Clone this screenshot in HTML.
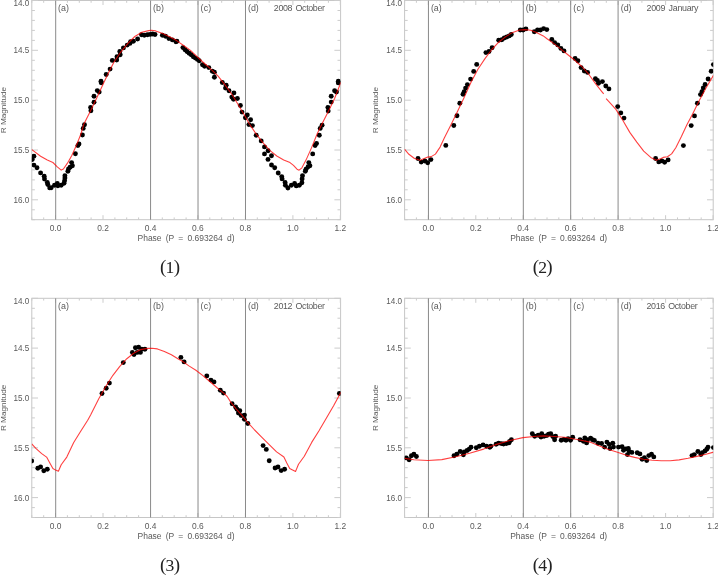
<!DOCTYPE html>
<html><head><meta charset="utf-8"><title>Light curves</title>
<style>
html,body{margin:0;padding:0;background:#fff;}
svg{display:block}
.t{font-family:"Liberation Sans",sans-serif;font-size:8.9px;fill:#5a5a5a}
.c{font-family:"Liberation Serif",serif;font-size:17.6px;fill:#222}
</style></head><body>
<svg width="718" height="575" viewBox="0 0 718 575">
<rect width="718" height="575" fill="#fff"/>

<g>
<rect x="31.8" y="0.5" width="308.8" height="219.2" fill="none" stroke="#c6c6c6" stroke-width="1"/>
<path d="M31.8 219.7v-2.3M31.8 0.5v2.3M43.7 219.7v-2.3M43.7 0.5v2.3M55.5 219.7v-4.5M55.5 0.5v4.5M67.4 219.7v-2.3M67.4 0.5v2.3M79.3 219.7v-2.3M79.3 0.5v2.3M91.1 219.7v-2.3M91.1 0.5v2.3M103.0 219.7v-4.5M103.0 0.5v4.5M114.9 219.7v-2.3M114.9 0.5v2.3M126.7 219.7v-2.3M126.7 0.5v2.3M138.6 219.7v-2.3M138.6 0.5v2.3M150.5 219.7v-4.5M150.5 0.5v4.5M162.3 219.7v-2.3M162.3 0.5v2.3M174.2 219.7v-2.3M174.2 0.5v2.3M186.1 219.7v-2.3M186.1 0.5v2.3M197.9 219.7v-4.5M197.9 0.5v4.5M209.8 219.7v-2.3M209.8 0.5v2.3M221.7 219.7v-2.3M221.7 0.5v2.3M233.5 219.7v-2.3M233.5 0.5v2.3M245.4 219.7v-4.5M245.4 0.5v4.5M257.3 219.7v-2.3M257.3 0.5v2.3M269.1 219.7v-2.3M269.1 0.5v2.3M281.0 219.7v-2.3M281.0 0.5v2.3M292.9 219.7v-4.5M292.9 0.5v4.5M304.7 219.7v-2.3M304.7 0.5v2.3M316.6 219.7v-2.3M316.6 0.5v2.3M328.4 219.7v-2.3M328.4 0.5v2.3M340.3 219.7v-4.5M340.3 0.5v4.5M31.8 0.5h6.2M340.6 0.5h-6.2M31.8 10.5h3.1M340.6 10.5h-3.1M31.8 20.4h3.1M340.6 20.4h-3.1M31.8 30.4h3.1M340.6 30.4h-3.1M31.8 40.4h3.1M340.6 40.4h-3.1M31.8 50.3h6.2M340.6 50.3h-6.2M31.8 60.3h3.1M340.6 60.3h-3.1M31.8 70.3h3.1M340.6 70.3h-3.1M31.8 80.2h3.1M340.6 80.2h-3.1M31.8 90.2h3.1M340.6 90.2h-3.1M31.8 100.2h6.2M340.6 100.2h-6.2M31.8 110.1h3.1M340.6 110.1h-3.1M31.8 120.1h3.1M340.6 120.1h-3.1M31.8 130.0h3.1M340.6 130.0h-3.1M31.8 140.0h3.1M340.6 140.0h-3.1M31.8 150.0h6.2M340.6 150.0h-6.2M31.8 159.9h3.1M340.6 159.9h-3.1M31.8 169.9h3.1M340.6 169.9h-3.1M31.8 179.9h3.1M340.6 179.9h-3.1M31.8 189.8h3.1M340.6 189.8h-3.1M31.8 199.8h6.2M340.6 199.8h-6.2M31.8 209.8h3.1M340.6 209.8h-3.1M31.8 219.7h3.1M340.6 219.7h-3.1" stroke="#cccccc" stroke-width="1" fill="none"/>
<line x1="55.70" y1="0.5" x2="55.70" y2="219.7" stroke="#8a8a8a" stroke-width="1"/>
<line x1="150.57" y1="0.5" x2="150.57" y2="219.7" stroke="#8a8a8a" stroke-width="1"/>
<line x1="198.03" y1="0.5" x2="198.03" y2="219.7" stroke="#8a8a8a" stroke-width="1"/>
<line x1="245.49" y1="0.5" x2="245.49" y2="219.7" stroke="#8a8a8a" stroke-width="1"/>
<clipPath id="cp0"><rect x="31.8" y="0.5" width="308.8" height="219.2"/></clipPath>
<g clip-path="url(#cp0)">
<circle cx="33.9" cy="156.2" r="2.45"/>
<circle cx="32.2" cy="159.5" r="2.45"/>
<circle cx="33.9" cy="165.1" r="2.45"/>
<circle cx="37.0" cy="167.7" r="2.45"/>
<circle cx="40.6" cy="172.9" r="2.45"/>
<circle cx="44.2" cy="176.2" r="2.45"/>
<circle cx="44.5" cy="179.0" r="2.45"/>
<circle cx="47.3" cy="182.4" r="2.45"/>
<circle cx="47.8" cy="184.6" r="2.45"/>
<circle cx="49.7" cy="187.9" r="2.45"/>
<circle cx="51.2" cy="187.7" r="2.45"/>
<circle cx="54.5" cy="185.2" r="2.45"/>
<circle cx="57.3" cy="183.5" r="2.45"/>
<circle cx="57.9" cy="185.7" r="2.45"/>
<circle cx="61.2" cy="185.2" r="2.45"/>
<circle cx="64.0" cy="183.3" r="2.45"/>
<circle cx="64.6" cy="180.7" r="2.45"/>
<circle cx="64.9" cy="177.9" r="2.45"/>
<circle cx="64.9" cy="175.7" r="2.45"/>
<circle cx="67.9" cy="171.2" r="2.45"/>
<circle cx="68.5" cy="169.0" r="2.45"/>
<circle cx="70.1" cy="167.3" r="2.45"/>
<circle cx="72.4" cy="165.7" r="2.45"/>
<circle cx="71.6" cy="162.6" r="2.45"/>
<circle cx="75.4" cy="153.7" r="2.45"/>
<circle cx="77.9" cy="145.6" r="2.45"/>
<circle cx="79.0" cy="143.9" r="2.45"/>
<circle cx="82.4" cy="135.0" r="2.45"/>
<circle cx="83.2" cy="128.4" r="2.45"/>
<circle cx="84.5" cy="124.8" r="2.45"/>
<circle cx="90.9" cy="110.7" r="2.45"/>
<circle cx="90.6" cy="107.4" r="2.45"/>
<circle cx="94.0" cy="102.3" r="2.45"/>
<circle cx="94.0" cy="96.2" r="2.45"/>
<circle cx="97.3" cy="90.6" r="2.45"/>
<circle cx="99.2" cy="92.1" r="2.45"/>
<circle cx="101.0" cy="81.2" r="2.45"/>
<circle cx="101.2" cy="82.8" r="2.45"/>
<circle cx="106.2" cy="74.5" r="2.45"/>
<circle cx="110.1" cy="69.1" r="2.45"/>
<circle cx="112.3" cy="60.4" r="2.45"/>
<circle cx="116.7" cy="60.1" r="2.45"/>
<circle cx="117.0" cy="56.7" r="2.45"/>
<circle cx="120.2" cy="54.8" r="2.45"/>
<circle cx="119.8" cy="51.5" r="2.45"/>
<circle cx="123.4" cy="47.9" r="2.45"/>
<circle cx="127.2" cy="45.1" r="2.45"/>
<circle cx="129.9" cy="43.4" r="2.45"/>
<circle cx="130.6" cy="41.8" r="2.45"/>
<circle cx="133.4" cy="41.3" r="2.45"/>
<circle cx="137.6" cy="39.0" r="2.45"/>
<circle cx="141.5" cy="34.8" r="2.45"/>
<circle cx="144.3" cy="35.3" r="2.45"/>
<circle cx="147.4" cy="34.8" r="2.45"/>
<circle cx="150.1" cy="34.4" r="2.45"/>
<circle cx="152.6" cy="34.0" r="2.45"/>
<circle cx="155.0" cy="34.5" r="2.45"/>
<circle cx="162.4" cy="35.3" r="2.45"/>
<circle cx="165.5" cy="36.2" r="2.45"/>
<circle cx="168.9" cy="38.6" r="2.45"/>
<circle cx="172.4" cy="39.9" r="2.45"/>
<circle cx="175.9" cy="41.8" r="2.45"/>
<circle cx="176.9" cy="41.3" r="2.45"/>
<circle cx="182.9" cy="47.6" r="2.45"/>
<circle cx="185.0" cy="49.7" r="2.45"/>
<circle cx="187.0" cy="51.5" r="2.45"/>
<circle cx="189.1" cy="53.2" r="2.45"/>
<circle cx="191.2" cy="54.8" r="2.45"/>
<circle cx="193.3" cy="56.7" r="2.45"/>
<circle cx="195.4" cy="58.1" r="2.45"/>
<circle cx="197.5" cy="59.4" r="2.45"/>
<circle cx="199.2" cy="60.8" r="2.45"/>
<circle cx="202.5" cy="64.8" r="2.45"/>
<circle cx="204.6" cy="66.2" r="2.45"/>
<circle cx="208.8" cy="67.6" r="2.45"/>
<circle cx="212.3" cy="71.3" r="2.45"/>
<circle cx="214.4" cy="72.3" r="2.45"/>
<circle cx="214.4" cy="77.3" r="2.45"/>
<circle cx="222.3" cy="82.5" r="2.45"/>
<circle cx="226.2" cy="85.3" r="2.45"/>
<circle cx="225.5" cy="88.1" r="2.45"/>
<circle cx="229.0" cy="90.8" r="2.45"/>
<circle cx="233.9" cy="92.9" r="2.45"/>
<circle cx="231.8" cy="97.1" r="2.45"/>
<circle cx="233.5" cy="99.2" r="2.45"/>
<circle cx="237.4" cy="98.5" r="2.45"/>
<circle cx="240.4" cy="105.5" r="2.45"/>
<circle cx="242.0" cy="112.1" r="2.45"/>
<circle cx="247.3" cy="114.9" r="2.45"/>
<circle cx="245.4" cy="117.7" r="2.45"/>
<circle cx="250.6" cy="119.7" r="2.45"/>
<circle cx="248.9" cy="124.6" r="2.45"/>
<circle cx="252.4" cy="125.6" r="2.45"/>
<circle cx="256.2" cy="135.3" r="2.45"/>
<circle cx="261.2" cy="140.9" r="2.45"/>
<circle cx="264.5" cy="146.9" r="2.45"/>
<circle cx="268.1" cy="150.7" r="2.45"/>
<circle cx="264.5" cy="153.9" r="2.45"/>
<circle cx="271.5" cy="155.7" r="2.45"/>
<circle cx="268.0" cy="159.4" r="2.45"/>
<circle cx="271.5" cy="165.0" r="2.45"/>
<circle cx="274.7" cy="167.8" r="2.45"/>
<circle cx="278.2" cy="173.0" r="2.45"/>
<circle cx="281.7" cy="176.6" r="2.45"/>
<circle cx="282.1" cy="178.9" r="2.45"/>
<circle cx="285.1" cy="182.4" r="2.45"/>
<circle cx="285.4" cy="185.2" r="2.45"/>
<circle cx="287.9" cy="188.0" r="2.45"/>
<circle cx="291.4" cy="185.2" r="2.45"/>
<circle cx="294.6" cy="183.5" r="2.45"/>
<circle cx="296.3" cy="185.9" r="2.45"/>
<circle cx="299.3" cy="185.2" r="2.45"/>
<circle cx="301.9" cy="182.7" r="2.45"/>
<circle cx="302.1" cy="178.9" r="2.45"/>
<circle cx="302.5" cy="175.7" r="2.45"/>
<circle cx="305.3" cy="171.3" r="2.45"/>
<circle cx="306.0" cy="169.2" r="2.45"/>
<circle cx="308.1" cy="166.8" r="2.45"/>
<circle cx="309.9" cy="165.7" r="2.45"/>
<circle cx="308.8" cy="162.6" r="2.45"/>
<circle cx="312.7" cy="153.9" r="2.45"/>
<circle cx="315.1" cy="145.5" r="2.45"/>
<circle cx="316.5" cy="143.4" r="2.45"/>
<circle cx="319.3" cy="135.3" r="2.45"/>
<circle cx="320.2" cy="128.4" r="2.45"/>
<circle cx="322.1" cy="125.3" r="2.45"/>
<circle cx="328.2" cy="111.1" r="2.45"/>
<circle cx="327.9" cy="107.4" r="2.45"/>
<circle cx="331.2" cy="102.1" r="2.45"/>
<circle cx="331.2" cy="96.2" r="2.45"/>
<circle cx="334.6" cy="90.7" r="2.45"/>
<circle cx="336.5" cy="92.1" r="2.45"/>
<circle cx="338.3" cy="81.2" r="2.45"/>
<circle cx="338.3" cy="82.9" r="2.45"/>
<polyline points="31.5,149.4 40.6,156.2 47.3,160.1 52.9,162.5 57.3,166.8 61.2,170.1 63.4,169.0 67.3,163.4 71.8,155.6 76.3,145.6 80.7,134.5 83.9,124.0 90.6,110.7 96.7,97.9 103.4,83.4 109.0,71.7 113.9,62.2 120.9,51.8 127.9,43.4 134.8,36.5 141.8,32.3 148.7,30.6 151.5,30.3 155.7,30.9 162.7,33.4 169.6,36.7 176.6,40.6 183.6,45.5 190.5,50.4 197.0,56.7 203.9,63.0 210.9,69.2 217.9,75.9 224.8,84.6 231.8,94.3 238.7,105.5 245.7,117.3 248.9,123.2 255.9,133.7 262.9,142.7 269.8,150.4 276.8,156.0 283.7,159.9 290.0,162.6 293.5,165.4 297.0,169.2 299.1,170.2 301.9,167.8 306.0,160.1 311.6,147.6 317.2,133.7 322.7,122.5 328.3,111.4 334.6,98.5 340.9,82.3" fill="none" stroke="#ff0000" stroke-opacity="0.75" stroke-width="1.1" stroke-linejoin="round"/>
</g>
<text class="t" x="55.5" y="231.3" text-anchor="middle" textLength="11.7" lengthAdjust="spacingAndGlyphs">0.0</text>
<text class="t" x="103.0" y="231.3" text-anchor="middle" textLength="11.7" lengthAdjust="spacingAndGlyphs">0.2</text>
<text class="t" x="150.5" y="231.3" text-anchor="middle" textLength="11.7" lengthAdjust="spacingAndGlyphs">0.4</text>
<text class="t" x="197.9" y="231.3" text-anchor="middle" textLength="11.7" lengthAdjust="spacingAndGlyphs">0.6</text>
<text class="t" x="245.4" y="231.3" text-anchor="middle" textLength="11.7" lengthAdjust="spacingAndGlyphs">0.8</text>
<text class="t" x="292.9" y="231.3" text-anchor="middle" textLength="11.7" lengthAdjust="spacingAndGlyphs">1.0</text>
<text class="t" x="340.3" y="231.3" text-anchor="middle" textLength="11.7" lengthAdjust="spacingAndGlyphs">1.2</text>
<text class="t" x="29.2" y="5.7" text-anchor="end" textLength="15.8" lengthAdjust="spacingAndGlyphs">14.0</text>
<text class="t" x="29.2" y="53.2" text-anchor="end" textLength="15.8" lengthAdjust="spacingAndGlyphs">14.5</text>
<text class="t" x="29.2" y="103.1" text-anchor="end" textLength="15.8" lengthAdjust="spacingAndGlyphs">15.0</text>
<text class="t" x="29.2" y="152.9" text-anchor="end" textLength="15.8" lengthAdjust="spacingAndGlyphs">15.5</text>
<text class="t" x="29.2" y="202.7" text-anchor="end" textLength="15.8" lengthAdjust="spacingAndGlyphs">16.0</text>
<text class="t" x="58.1" y="11.2" textLength="10.8" lengthAdjust="spacing">(a)</text>
<text class="t" x="153.1" y="11.2" textLength="10.8" lengthAdjust="spacing">(b)</text>
<text class="t" x="200.5" y="11.2" textLength="10.8" lengthAdjust="spacing">(c)</text>
<text class="t" x="248.0" y="11.2" textLength="10.8" lengthAdjust="spacing">(d)</text>
<text class="t" x="273.8" y="11.2" textLength="51.2" lengthAdjust="spacing" word-spacing="1.2">2008 October</text>
<text class="t" x="186.0" y="241.0" text-anchor="middle" word-spacing="1.9" textLength="97" lengthAdjust="spacingAndGlyphs">Phase (P = 0.693264 d)</text>
<text class="t" style="font-size:8.1px" transform="translate(5.5 110.1) rotate(-90)" text-anchor="middle" textLength="46.4" lengthAdjust="spacingAndGlyphs">R Magnitude</text>
<text class="c" x="170.0" y="273.1" text-anchor="middle" textLength="20" lengthAdjust="spacing"><tspan font-size="19" dy="0.2">(</tspan><tspan dy="-0.2">1</tspan><tspan font-size="19" dy="0.2">)</tspan></text>
</g>
<g>
<rect x="404.6" y="0.5" width="308.6" height="219.2" fill="none" stroke="#c6c6c6" stroke-width="1"/>
<path d="M404.6 219.7v-2.3M404.6 0.5v2.3M416.4 219.7v-2.3M416.4 0.5v2.3M428.3 219.7v-4.5M428.3 0.5v4.5M440.2 219.7v-2.3M440.2 0.5v2.3M452.0 219.7v-2.3M452.0 0.5v2.3M463.9 219.7v-2.3M463.9 0.5v2.3M475.8 219.7v-4.5M475.8 0.5v4.5M487.6 219.7v-2.3M487.6 0.5v2.3M499.5 219.7v-2.3M499.5 0.5v2.3M511.4 219.7v-2.3M511.4 0.5v2.3M523.2 219.7v-4.5M523.2 0.5v4.5M535.1 219.7v-2.3M535.1 0.5v2.3M547.0 219.7v-2.3M547.0 0.5v2.3M558.8 219.7v-2.3M558.8 0.5v2.3M570.7 219.7v-4.5M570.7 0.5v4.5M582.5 219.7v-2.3M582.5 0.5v2.3M594.4 219.7v-2.3M594.4 0.5v2.3M606.3 219.7v-2.3M606.3 0.5v2.3M618.1 219.7v-4.5M618.1 0.5v4.5M630.0 219.7v-2.3M630.0 0.5v2.3M641.9 219.7v-2.3M641.9 0.5v2.3M653.7 219.7v-2.3M653.7 0.5v2.3M665.6 219.7v-4.5M665.6 0.5v4.5M677.5 219.7v-2.3M677.5 0.5v2.3M689.3 219.7v-2.3M689.3 0.5v2.3M701.2 219.7v-2.3M701.2 0.5v2.3M713.1 219.7v-4.5M713.1 0.5v4.5M404.6 0.5h6.2M713.2 0.5h-6.2M404.6 10.5h3.1M713.2 10.5h-3.1M404.6 20.4h3.1M713.2 20.4h-3.1M404.6 30.4h3.1M713.2 30.4h-3.1M404.6 40.4h3.1M713.2 40.4h-3.1M404.6 50.3h6.2M713.2 50.3h-6.2M404.6 60.3h3.1M713.2 60.3h-3.1M404.6 70.3h3.1M713.2 70.3h-3.1M404.6 80.2h3.1M713.2 80.2h-3.1M404.6 90.2h3.1M713.2 90.2h-3.1M404.6 100.2h6.2M713.2 100.2h-6.2M404.6 110.1h3.1M713.2 110.1h-3.1M404.6 120.1h3.1M713.2 120.1h-3.1M404.6 130.0h3.1M713.2 130.0h-3.1M404.6 140.0h3.1M713.2 140.0h-3.1M404.6 150.0h6.2M713.2 150.0h-6.2M404.6 159.9h3.1M713.2 159.9h-3.1M404.6 169.9h3.1M713.2 169.9h-3.1M404.6 179.9h3.1M713.2 179.9h-3.1M404.6 189.8h3.1M713.2 189.8h-3.1M404.6 199.8h6.2M713.2 199.8h-6.2M404.6 209.8h3.1M713.2 209.8h-3.1M404.6 219.7h3.1M713.2 219.7h-3.1" stroke="#cccccc" stroke-width="1" fill="none"/>
<line x1="428.45" y1="0.5" x2="428.45" y2="219.7" stroke="#8a8a8a" stroke-width="1"/>
<line x1="523.32" y1="0.5" x2="523.32" y2="219.7" stroke="#8a8a8a" stroke-width="1"/>
<line x1="570.68" y1="0.5" x2="570.68" y2="219.7" stroke="#8a8a8a" stroke-width="1"/>
<line x1="618.09" y1="0.5" x2="618.09" y2="219.7" stroke="#8a8a8a" stroke-width="1"/>
<clipPath id="cp1"><rect x="404.6" y="0.5" width="308.6" height="219.2"/></clipPath>
<g clip-path="url(#cp1)">
<circle cx="418.0" cy="158.5" r="2.45"/>
<circle cx="421.2" cy="162.1" r="2.45"/>
<circle cx="424.9" cy="161.0" r="2.45"/>
<circle cx="427.7" cy="162.7" r="2.45"/>
<circle cx="430.9" cy="159.6" r="2.45"/>
<circle cx="445.8" cy="145.4" r="2.45"/>
<circle cx="453.8" cy="125.5" r="2.45"/>
<circle cx="457.0" cy="115.8" r="2.45"/>
<circle cx="459.8" cy="103.2" r="2.45"/>
<circle cx="463.0" cy="94.3" r="2.45"/>
<circle cx="464.2" cy="91.6" r="2.45"/>
<circle cx="465.6" cy="88.1" r="2.45"/>
<circle cx="467.4" cy="84.6" r="2.45"/>
<circle cx="470.6" cy="79.1" r="2.45"/>
<circle cx="473.7" cy="71.4" r="2.45"/>
<circle cx="476.7" cy="64.4" r="2.45"/>
<circle cx="485.9" cy="52.6" r="2.45"/>
<circle cx="489.0" cy="51.5" r="2.45"/>
<circle cx="492.1" cy="47.7" r="2.45"/>
<circle cx="498.7" cy="40.3" r="2.45"/>
<circle cx="501.8" cy="39.8" r="2.45"/>
<circle cx="504.3" cy="38.0" r="2.45"/>
<circle cx="506.8" cy="37.0" r="2.45"/>
<circle cx="509.2" cy="35.9" r="2.45"/>
<circle cx="511.3" cy="34.5" r="2.45"/>
<circle cx="520.3" cy="30.0" r="2.45"/>
<circle cx="523.1" cy="30.0" r="2.45"/>
<circle cx="525.9" cy="28.9" r="2.45"/>
<circle cx="534.3" cy="31.7" r="2.45"/>
<circle cx="537.5" cy="30.0" r="2.45"/>
<circle cx="540.5" cy="30.0" r="2.45"/>
<circle cx="543.6" cy="28.6" r="2.45"/>
<circle cx="546.8" cy="29.6" r="2.45"/>
<circle cx="551.8" cy="39.4" r="2.45"/>
<circle cx="554.6" cy="42.6" r="2.45"/>
<circle cx="557.8" cy="44.9" r="2.45"/>
<circle cx="560.9" cy="48.4" r="2.45"/>
<circle cx="564.0" cy="50.9" r="2.45"/>
<circle cx="575.1" cy="58.5" r="2.45"/>
<circle cx="577.9" cy="60.7" r="2.45"/>
<circle cx="581.1" cy="67.6" r="2.45"/>
<circle cx="584.3" cy="71.0" r="2.45"/>
<circle cx="587.6" cy="72.4" r="2.45"/>
<circle cx="595.4" cy="78.8" r="2.45"/>
<circle cx="597.4" cy="80.5" r="2.45"/>
<circle cx="598.5" cy="83.2" r="2.45"/>
<circle cx="602.4" cy="81.6" r="2.45"/>
<circle cx="605.8" cy="86.0" r="2.45"/>
<circle cx="608.9" cy="88.9" r="2.45"/>
<circle cx="617.7" cy="106.6" r="2.45"/>
<circle cx="620.8" cy="112.9" r="2.45"/>
<circle cx="624.0" cy="118.1" r="2.45"/>
<circle cx="655.6" cy="158.5" r="2.45"/>
<circle cx="658.8" cy="161.9" r="2.45"/>
<circle cx="661.9" cy="160.9" r="2.45"/>
<circle cx="664.6" cy="162.3" r="2.45"/>
<circle cx="668.1" cy="159.9" r="2.45"/>
<circle cx="683.4" cy="145.6" r="2.45"/>
<circle cx="691.2" cy="125.6" r="2.45"/>
<circle cx="694.5" cy="115.9" r="2.45"/>
<circle cx="697.4" cy="103.3" r="2.45"/>
<circle cx="700.5" cy="94.6" r="2.45"/>
<circle cx="701.9" cy="91.8" r="2.45"/>
<circle cx="703.3" cy="87.9" r="2.45"/>
<circle cx="705.1" cy="84.5" r="2.45"/>
<circle cx="708.1" cy="79.0" r="2.45"/>
<circle cx="711.2" cy="71.2" r="2.45"/>
<circle cx="713.4" cy="64.6" r="2.45"/>
<polyline points="404.5,149.2 408.9,154.3 414.5,158.5 420.1,160.3 424.2,158.5 427.7,157.1 431.2,156.6 435.4,154.1 440.1,147.1 444.3,138.1 451.0,124.8 457.7,110.9 463.9,98.0 470.9,82.6 477.9,69.3 484.8,58.9 491.8,49.5 498.7,42.2 505.7,36.6 512.7,32.4 519.6,30.0 525.2,29.6 530.8,30.3 536.4,32.4 543.3,35.9 547.0,38.7 553.9,43.6 560.9,49.1 567.9,54.7 574.8,60.3 581.8,66.5 588.7,74.2 595.7,83.9 602.0,91.8 603.7,93.9" fill="none" stroke="#ff0000" stroke-opacity="0.75" stroke-width="1.1" stroke-linejoin="round"/>
<polyline points="606.1,98.7 608.9,101.6 615.9,109.4 622.9,120.5 629.8,132.4 636.8,142.1 643.7,151.2 650.7,157.4 656.3,160.2 660.5,158.8 663.2,157.4 667.4,156.7 671.6,153.9 675.8,147.7 681.4,136.5 686.9,124.7 692.5,114.2 699.0,101.0 706.0,88.0 713.6,75.1" fill="none" stroke="#ff0000" stroke-opacity="0.75" stroke-width="1.1" stroke-linejoin="round"/>
</g>
<text class="t" x="428.3" y="231.3" text-anchor="middle" textLength="11.7" lengthAdjust="spacingAndGlyphs">0.0</text>
<text class="t" x="475.8" y="231.3" text-anchor="middle" textLength="11.7" lengthAdjust="spacingAndGlyphs">0.2</text>
<text class="t" x="523.2" y="231.3" text-anchor="middle" textLength="11.7" lengthAdjust="spacingAndGlyphs">0.4</text>
<text class="t" x="570.7" y="231.3" text-anchor="middle" textLength="11.7" lengthAdjust="spacingAndGlyphs">0.6</text>
<text class="t" x="618.1" y="231.3" text-anchor="middle" textLength="11.7" lengthAdjust="spacingAndGlyphs">0.8</text>
<text class="t" x="665.6" y="231.3" text-anchor="middle" textLength="11.7" lengthAdjust="spacingAndGlyphs">1.0</text>
<text class="t" x="713.1" y="231.3" text-anchor="middle" textLength="11.7" lengthAdjust="spacingAndGlyphs">1.2</text>
<text class="t" x="402.0" y="5.7" text-anchor="end" textLength="15.8" lengthAdjust="spacingAndGlyphs">14.0</text>
<text class="t" x="402.0" y="53.2" text-anchor="end" textLength="15.8" lengthAdjust="spacingAndGlyphs">14.5</text>
<text class="t" x="402.0" y="103.1" text-anchor="end" textLength="15.8" lengthAdjust="spacingAndGlyphs">15.0</text>
<text class="t" x="402.0" y="152.9" text-anchor="end" textLength="15.8" lengthAdjust="spacingAndGlyphs">15.5</text>
<text class="t" x="402.0" y="202.7" text-anchor="end" textLength="15.8" lengthAdjust="spacingAndGlyphs">16.0</text>
<text class="t" x="430.9" y="11.2" textLength="10.8" lengthAdjust="spacing">(a)</text>
<text class="t" x="525.8" y="11.2" textLength="10.8" lengthAdjust="spacing">(b)</text>
<text class="t" x="573.3" y="11.2" textLength="10.8" lengthAdjust="spacing">(c)</text>
<text class="t" x="620.7" y="11.2" textLength="10.8" lengthAdjust="spacing">(d)</text>
<text class="t" x="646.5" y="11.2" textLength="52.0" lengthAdjust="spacing" word-spacing="1.2">2009 January</text>
<text class="t" x="558.7" y="241.0" text-anchor="middle" word-spacing="1.9" textLength="97" lengthAdjust="spacingAndGlyphs">Phase (P = 0.693264 d)</text>
<text class="t" style="font-size:8.1px" transform="translate(378.3 110.1) rotate(-90)" text-anchor="middle" textLength="46.4" lengthAdjust="spacingAndGlyphs">R Magnitude</text>
<text class="c" x="542.7" y="273.1" text-anchor="middle" textLength="20" lengthAdjust="spacing"><tspan font-size="19" dy="0.2">(</tspan><tspan dy="-0.2">2</tspan><tspan font-size="19" dy="0.2">)</tspan></text>
</g>
<g>
<rect x="31.8" y="298.3" width="308.8" height="219.2" fill="none" stroke="#c6c6c6" stroke-width="1"/>
<path d="M31.8 517.5v-2.3M31.8 298.3v2.3M43.7 517.5v-2.3M43.7 298.3v2.3M55.5 517.5v-4.5M55.5 298.3v4.5M67.4 517.5v-2.3M67.4 298.3v2.3M79.3 517.5v-2.3M79.3 298.3v2.3M91.1 517.5v-2.3M91.1 298.3v2.3M103.0 517.5v-4.5M103.0 298.3v4.5M114.9 517.5v-2.3M114.9 298.3v2.3M126.7 517.5v-2.3M126.7 298.3v2.3M138.6 517.5v-2.3M138.6 298.3v2.3M150.5 517.5v-4.5M150.5 298.3v4.5M162.3 517.5v-2.3M162.3 298.3v2.3M174.2 517.5v-2.3M174.2 298.3v2.3M186.1 517.5v-2.3M186.1 298.3v2.3M197.9 517.5v-4.5M197.9 298.3v4.5M209.8 517.5v-2.3M209.8 298.3v2.3M221.7 517.5v-2.3M221.7 298.3v2.3M233.5 517.5v-2.3M233.5 298.3v2.3M245.4 517.5v-4.5M245.4 298.3v4.5M257.3 517.5v-2.3M257.3 298.3v2.3M269.1 517.5v-2.3M269.1 298.3v2.3M281.0 517.5v-2.3M281.0 298.3v2.3M292.9 517.5v-4.5M292.9 298.3v4.5M304.7 517.5v-2.3M304.7 298.3v2.3M316.6 517.5v-2.3M316.6 298.3v2.3M328.4 517.5v-2.3M328.4 298.3v2.3M340.3 517.5v-4.5M340.3 298.3v4.5M31.8 298.3h6.2M340.6 298.3h-6.2M31.8 308.3h3.1M340.6 308.3h-3.1M31.8 318.2h3.1M340.6 318.2h-3.1M31.8 328.2h3.1M340.6 328.2h-3.1M31.8 338.2h3.1M340.6 338.2h-3.1M31.8 348.1h6.2M340.6 348.1h-6.2M31.8 358.1h3.1M340.6 358.1h-3.1M31.8 368.1h3.1M340.6 368.1h-3.1M31.8 378.0h3.1M340.6 378.0h-3.1M31.8 388.0h3.1M340.6 388.0h-3.1M31.8 398.0h6.2M340.6 398.0h-6.2M31.8 407.9h3.1M340.6 407.9h-3.1M31.8 417.9h3.1M340.6 417.9h-3.1M31.8 427.8h3.1M340.6 427.8h-3.1M31.8 437.8h3.1M340.6 437.8h-3.1M31.8 447.8h6.2M340.6 447.8h-6.2M31.8 457.7h3.1M340.6 457.7h-3.1M31.8 467.7h3.1M340.6 467.7h-3.1M31.8 477.7h3.1M340.6 477.7h-3.1M31.8 487.6h3.1M340.6 487.6h-3.1M31.8 497.6h6.2M340.6 497.6h-6.2M31.8 507.6h3.1M340.6 507.6h-3.1M31.8 517.5h3.1M340.6 517.5h-3.1" stroke="#cccccc" stroke-width="1" fill="none"/>
<line x1="55.70" y1="298.3" x2="55.70" y2="517.5" stroke="#8a8a8a" stroke-width="1"/>
<line x1="150.57" y1="298.3" x2="150.57" y2="517.5" stroke="#8a8a8a" stroke-width="1"/>
<line x1="198.03" y1="298.3" x2="198.03" y2="517.5" stroke="#8a8a8a" stroke-width="1"/>
<line x1="245.49" y1="298.3" x2="245.49" y2="517.5" stroke="#8a8a8a" stroke-width="1"/>
<clipPath id="cp2"><rect x="31.8" y="298.3" width="308.8" height="219.2"/></clipPath>
<g clip-path="url(#cp2)">
<circle cx="31.7" cy="461.0" r="2.45"/>
<circle cx="37.8" cy="468.2" r="2.45"/>
<circle cx="40.6" cy="466.9" r="2.45"/>
<circle cx="43.8" cy="470.8" r="2.45"/>
<circle cx="47.3" cy="469.2" r="2.45"/>
<circle cx="102.0" cy="393.5" r="2.45"/>
<circle cx="106.2" cy="388.2" r="2.45"/>
<circle cx="109.4" cy="383.1" r="2.45"/>
<circle cx="123.3" cy="362.6" r="2.45"/>
<circle cx="132.4" cy="352.4" r="2.45"/>
<circle cx="134.0" cy="354.5" r="2.45"/>
<circle cx="135.4" cy="347.8" r="2.45"/>
<circle cx="138.6" cy="347.3" r="2.45"/>
<circle cx="137.2" cy="352.4" r="2.45"/>
<circle cx="140.4" cy="352.4" r="2.45"/>
<circle cx="141.8" cy="349.2" r="2.45"/>
<circle cx="144.9" cy="349.2" r="2.45"/>
<circle cx="180.9" cy="357.4" r="2.45"/>
<circle cx="184.1" cy="361.9" r="2.45"/>
<circle cx="206.8" cy="375.9" r="2.45"/>
<circle cx="210.9" cy="380.1" r="2.45"/>
<circle cx="214.0" cy="381.9" r="2.45"/>
<circle cx="220.3" cy="390.3" r="2.45"/>
<circle cx="223.5" cy="393.1" r="2.45"/>
<circle cx="232.1" cy="403.8" r="2.45"/>
<circle cx="235.6" cy="407.0" r="2.45"/>
<circle cx="237.0" cy="409.3" r="2.45"/>
<circle cx="239.8" cy="410.7" r="2.45"/>
<circle cx="238.4" cy="413.0" r="2.45"/>
<circle cx="241.2" cy="415.6" r="2.45"/>
<circle cx="244.5" cy="415.1" r="2.45"/>
<circle cx="244.4" cy="419.3" r="2.45"/>
<circle cx="247.8" cy="423.5" r="2.45"/>
<circle cx="263.1" cy="445.6" r="2.45"/>
<circle cx="266.3" cy="449.4" r="2.45"/>
<circle cx="269.2" cy="460.7" r="2.45"/>
<circle cx="275.1" cy="468.0" r="2.45"/>
<circle cx="278.0" cy="467.0" r="2.45"/>
<circle cx="281.2" cy="470.6" r="2.45"/>
<circle cx="284.6" cy="469.2" r="2.45"/>
<circle cx="339.4" cy="393.4" r="2.45"/>
<polyline points="31.7,443.9 36.1,448.7 41.7,453.6 46.6,457.1 50.1,463.4 52.9,468.5 55.6,470.1 58.4,471.3 61.2,464.8 66.8,457.1 73.7,442.5 80.7,431.3 87.7,420.2 90.6,414.9 98.9,398.4 105.9,386.2 112.9,375.3 119.8,366.3 126.8,358.7 133.7,353.2 140.7,349.6 147.7,348.4 151.9,348.2 157.4,348.9 164.4,351.4 171.4,354.8 178.3,359.0 182.0,361.0 188.9,365.9 195.9,370.3 202.9,375.6 209.8,381.5 216.8,387.5 223.7,393.1 227.2,396.5 230.7,402.1 236.3,409.1 241.9,415.3 247.3,421.9 254.6,430.0 261.9,437.3 269.2,444.6 276.6,451.9 283.9,457.0 286.8,462.9 289.7,468.4 292.6,469.9 295.6,471.4 298.5,464.3 304.3,456.3 311.7,442.4 319.0,430.7 326.3,418.3 333.6,405.8 340.9,392.2" fill="none" stroke="#ff0000" stroke-opacity="0.75" stroke-width="1.1" stroke-linejoin="round"/>
</g>
<text class="t" x="55.5" y="529.1" text-anchor="middle" textLength="11.7" lengthAdjust="spacingAndGlyphs">0.0</text>
<text class="t" x="103.0" y="529.1" text-anchor="middle" textLength="11.7" lengthAdjust="spacingAndGlyphs">0.2</text>
<text class="t" x="150.5" y="529.1" text-anchor="middle" textLength="11.7" lengthAdjust="spacingAndGlyphs">0.4</text>
<text class="t" x="197.9" y="529.1" text-anchor="middle" textLength="11.7" lengthAdjust="spacingAndGlyphs">0.6</text>
<text class="t" x="245.4" y="529.1" text-anchor="middle" textLength="11.7" lengthAdjust="spacingAndGlyphs">0.8</text>
<text class="t" x="292.9" y="529.1" text-anchor="middle" textLength="11.7" lengthAdjust="spacingAndGlyphs">1.0</text>
<text class="t" x="340.3" y="529.1" text-anchor="middle" textLength="11.7" lengthAdjust="spacingAndGlyphs">1.2</text>
<text class="t" x="29.2" y="303.5" text-anchor="end" textLength="15.8" lengthAdjust="spacingAndGlyphs">14.0</text>
<text class="t" x="29.2" y="351.0" text-anchor="end" textLength="15.8" lengthAdjust="spacingAndGlyphs">14.5</text>
<text class="t" x="29.2" y="400.9" text-anchor="end" textLength="15.8" lengthAdjust="spacingAndGlyphs">15.0</text>
<text class="t" x="29.2" y="450.7" text-anchor="end" textLength="15.8" lengthAdjust="spacingAndGlyphs">15.5</text>
<text class="t" x="29.2" y="500.5" text-anchor="end" textLength="15.8" lengthAdjust="spacingAndGlyphs">16.0</text>
<text class="t" x="58.1" y="309.0" textLength="10.8" lengthAdjust="spacing">(a)</text>
<text class="t" x="153.1" y="309.0" textLength="10.8" lengthAdjust="spacing">(b)</text>
<text class="t" x="200.5" y="309.0" textLength="10.8" lengthAdjust="spacing">(c)</text>
<text class="t" x="248.0" y="309.0" textLength="10.8" lengthAdjust="spacing">(d)</text>
<text class="t" x="273.8" y="309.0" textLength="51.2" lengthAdjust="spacing" word-spacing="1.2">2012 October</text>
<text class="t" x="186.0" y="538.8" text-anchor="middle" word-spacing="1.9" textLength="97" lengthAdjust="spacingAndGlyphs">Phase (P = 0.693264 d)</text>
<text class="t" style="font-size:8.1px" transform="translate(5.5 407.9) rotate(-90)" text-anchor="middle" textLength="46.4" lengthAdjust="spacingAndGlyphs">R Magnitude</text>
<text class="c" x="170.0" y="570.9" text-anchor="middle" textLength="20" lengthAdjust="spacing"><tspan font-size="19" dy="0.2">(</tspan><tspan dy="-0.2">3</tspan><tspan font-size="19" dy="0.2">)</tspan></text>
</g>
<g>
<rect x="404.6" y="298.3" width="308.6" height="219.2" fill="none" stroke="#c6c6c6" stroke-width="1"/>
<path d="M404.6 517.5v-2.3M404.6 298.3v2.3M416.4 517.5v-2.3M416.4 298.3v2.3M428.3 517.5v-4.5M428.3 298.3v4.5M440.2 517.5v-2.3M440.2 298.3v2.3M452.0 517.5v-2.3M452.0 298.3v2.3M463.9 517.5v-2.3M463.9 298.3v2.3M475.8 517.5v-4.5M475.8 298.3v4.5M487.6 517.5v-2.3M487.6 298.3v2.3M499.5 517.5v-2.3M499.5 298.3v2.3M511.4 517.5v-2.3M511.4 298.3v2.3M523.2 517.5v-4.5M523.2 298.3v4.5M535.1 517.5v-2.3M535.1 298.3v2.3M547.0 517.5v-2.3M547.0 298.3v2.3M558.8 517.5v-2.3M558.8 298.3v2.3M570.7 517.5v-4.5M570.7 298.3v4.5M582.5 517.5v-2.3M582.5 298.3v2.3M594.4 517.5v-2.3M594.4 298.3v2.3M606.3 517.5v-2.3M606.3 298.3v2.3M618.1 517.5v-4.5M618.1 298.3v4.5M630.0 517.5v-2.3M630.0 298.3v2.3M641.9 517.5v-2.3M641.9 298.3v2.3M653.7 517.5v-2.3M653.7 298.3v2.3M665.6 517.5v-4.5M665.6 298.3v4.5M677.5 517.5v-2.3M677.5 298.3v2.3M689.3 517.5v-2.3M689.3 298.3v2.3M701.2 517.5v-2.3M701.2 298.3v2.3M713.1 517.5v-4.5M713.1 298.3v4.5M404.6 298.3h6.2M713.2 298.3h-6.2M404.6 308.3h3.1M713.2 308.3h-3.1M404.6 318.2h3.1M713.2 318.2h-3.1M404.6 328.2h3.1M713.2 328.2h-3.1M404.6 338.2h3.1M713.2 338.2h-3.1M404.6 348.1h6.2M713.2 348.1h-6.2M404.6 358.1h3.1M713.2 358.1h-3.1M404.6 368.1h3.1M713.2 368.1h-3.1M404.6 378.0h3.1M713.2 378.0h-3.1M404.6 388.0h3.1M713.2 388.0h-3.1M404.6 398.0h6.2M713.2 398.0h-6.2M404.6 407.9h3.1M713.2 407.9h-3.1M404.6 417.9h3.1M713.2 417.9h-3.1M404.6 427.8h3.1M713.2 427.8h-3.1M404.6 437.8h3.1M713.2 437.8h-3.1M404.6 447.8h6.2M713.2 447.8h-6.2M404.6 457.7h3.1M713.2 457.7h-3.1M404.6 467.7h3.1M713.2 467.7h-3.1M404.6 477.7h3.1M713.2 477.7h-3.1M404.6 487.6h3.1M713.2 487.6h-3.1M404.6 497.6h6.2M713.2 497.6h-6.2M404.6 507.6h3.1M713.2 507.6h-3.1M404.6 517.5h3.1M713.2 517.5h-3.1" stroke="#cccccc" stroke-width="1" fill="none"/>
<line x1="428.45" y1="298.3" x2="428.45" y2="517.5" stroke="#8a8a8a" stroke-width="1"/>
<line x1="523.32" y1="298.3" x2="523.32" y2="517.5" stroke="#8a8a8a" stroke-width="1"/>
<line x1="570.68" y1="298.3" x2="570.68" y2="517.5" stroke="#8a8a8a" stroke-width="1"/>
<line x1="618.09" y1="298.3" x2="618.09" y2="517.5" stroke="#8a8a8a" stroke-width="1"/>
<clipPath id="cp3"><rect x="404.6" y="298.3" width="308.6" height="219.2"/></clipPath>
<g clip-path="url(#cp3)">
<circle cx="406.3" cy="457.9" r="2.45"/>
<circle cx="409.1" cy="459.8" r="2.45"/>
<circle cx="411.4" cy="455.7" r="2.45"/>
<circle cx="413.9" cy="454.3" r="2.45"/>
<circle cx="416.4" cy="456.5" r="2.45"/>
<circle cx="454.0" cy="455.7" r="2.45"/>
<circle cx="456.8" cy="454.3" r="2.45"/>
<circle cx="460.2" cy="451.5" r="2.45"/>
<circle cx="463.4" cy="454.7" r="2.45"/>
<circle cx="464.3" cy="451.9" r="2.45"/>
<circle cx="467.1" cy="450.5" r="2.45"/>
<circle cx="469.2" cy="449.1" r="2.45"/>
<circle cx="471.0" cy="447.3" r="2.45"/>
<circle cx="476.3" cy="447.7" r="2.45"/>
<circle cx="479.4" cy="446.3" r="2.45"/>
<circle cx="483.1" cy="444.9" r="2.45"/>
<circle cx="486.6" cy="446.3" r="2.45"/>
<circle cx="489.8" cy="447.3" r="2.45"/>
<circle cx="490.8" cy="446.3" r="2.45"/>
<circle cx="496.1" cy="444.2" r="2.45"/>
<circle cx="498.6" cy="443.1" r="2.45"/>
<circle cx="501.3" cy="443.6" r="2.45"/>
<circle cx="503.6" cy="444.0" r="2.45"/>
<circle cx="506.4" cy="443.6" r="2.45"/>
<circle cx="508.9" cy="442.9" r="2.45"/>
<circle cx="509.6" cy="441.5" r="2.45"/>
<circle cx="511.4" cy="439.8" r="2.45"/>
<circle cx="532.3" cy="433.8" r="2.45"/>
<circle cx="534.7" cy="436.2" r="2.45"/>
<circle cx="538.2" cy="435.2" r="2.45"/>
<circle cx="541.0" cy="437.0" r="2.45"/>
<circle cx="541.7" cy="433.8" r="2.45"/>
<circle cx="544.0" cy="436.2" r="2.45"/>
<circle cx="546.8" cy="435.6" r="2.45"/>
<circle cx="548.6" cy="434.2" r="2.45"/>
<circle cx="550.7" cy="433.8" r="2.45"/>
<circle cx="552.8" cy="436.6" r="2.45"/>
<circle cx="554.6" cy="439.8" r="2.45"/>
<circle cx="555.6" cy="436.2" r="2.45"/>
<circle cx="561.2" cy="440.3" r="2.45"/>
<circle cx="563.9" cy="439.4" r="2.45"/>
<circle cx="566.0" cy="440.3" r="2.45"/>
<circle cx="568.1" cy="438.7" r="2.45"/>
<circle cx="570.5" cy="440.3" r="2.45"/>
<circle cx="572.7" cy="437.3" r="2.45"/>
<circle cx="580.0" cy="439.8" r="2.45"/>
<circle cx="583.4" cy="441.2" r="2.45"/>
<circle cx="584.8" cy="438.0" r="2.45"/>
<circle cx="586.6" cy="442.9" r="2.45"/>
<circle cx="587.6" cy="439.8" r="2.45"/>
<circle cx="590.6" cy="438.1" r="2.45"/>
<circle cx="592.5" cy="439.8" r="2.45"/>
<circle cx="594.4" cy="440.4" r="2.45"/>
<circle cx="598.0" cy="443.2" r="2.45"/>
<circle cx="601.6" cy="443.5" r="2.45"/>
<circle cx="604.6" cy="447.1" r="2.45"/>
<circle cx="606.9" cy="442.1" r="2.45"/>
<circle cx="609.3" cy="444.4" r="2.45"/>
<circle cx="610.0" cy="448.5" r="2.45"/>
<circle cx="612.8" cy="443.2" r="2.45"/>
<circle cx="613.5" cy="447.1" r="2.45"/>
<circle cx="618.5" cy="447.1" r="2.45"/>
<circle cx="622.1" cy="446.7" r="2.45"/>
<circle cx="623.5" cy="450.3" r="2.45"/>
<circle cx="625.7" cy="448.9" r="2.45"/>
<circle cx="627.4" cy="454.6" r="2.45"/>
<circle cx="628.3" cy="448.5" r="2.45"/>
<circle cx="629.2" cy="451.5" r="2.45"/>
<circle cx="631.9" cy="452.4" r="2.45"/>
<circle cx="637.2" cy="452.8" r="2.45"/>
<circle cx="639.9" cy="453.9" r="2.45"/>
<circle cx="642.1" cy="459.2" r="2.45"/>
<circle cx="644.4" cy="457.8" r="2.45"/>
<circle cx="646.7" cy="460.5" r="2.45"/>
<circle cx="648.8" cy="455.6" r="2.45"/>
<circle cx="651.5" cy="454.2" r="2.45"/>
<circle cx="653.8" cy="456.9" r="2.45"/>
<circle cx="692.0" cy="455.6" r="2.45"/>
<circle cx="694.3" cy="454.6" r="2.45"/>
<circle cx="697.9" cy="451.5" r="2.45"/>
<circle cx="700.9" cy="454.6" r="2.45"/>
<circle cx="702.3" cy="452.8" r="2.45"/>
<circle cx="705.0" cy="451.0" r="2.45"/>
<circle cx="706.8" cy="449.2" r="2.45"/>
<circle cx="708.0" cy="447.1" r="2.45"/>
<circle cx="713.4" cy="447.6" r="2.45"/>
<polyline points="404.5,458.4 413.9,459.8 427.9,460.5 441.8,459.6 455.7,456.8 469.6,453.3 483.6,449.1 495.0,444.9 508.9,440.8 522.9,437.6 536.8,436.2 543.7,435.9 550.7,436.2 564.6,437.3 578.6,439.8 590.0,442.1 598.9,445.7 607.8,449.2 616.7,452.1 625.7,455.1 634.6,457.4 643.5,459.2 652.4,460.3 661.3,460.8 670.2,460.8 679.1,459.9 688.1,458.3 697.0,456.4 705.9,454.2 713.6,452.1" fill="none" stroke="#ff0000" stroke-opacity="0.75" stroke-width="1.1" stroke-linejoin="round"/>
</g>
<text class="t" x="428.3" y="529.1" text-anchor="middle" textLength="11.7" lengthAdjust="spacingAndGlyphs">0.0</text>
<text class="t" x="475.8" y="529.1" text-anchor="middle" textLength="11.7" lengthAdjust="spacingAndGlyphs">0.2</text>
<text class="t" x="523.2" y="529.1" text-anchor="middle" textLength="11.7" lengthAdjust="spacingAndGlyphs">0.4</text>
<text class="t" x="570.7" y="529.1" text-anchor="middle" textLength="11.7" lengthAdjust="spacingAndGlyphs">0.6</text>
<text class="t" x="618.1" y="529.1" text-anchor="middle" textLength="11.7" lengthAdjust="spacingAndGlyphs">0.8</text>
<text class="t" x="665.6" y="529.1" text-anchor="middle" textLength="11.7" lengthAdjust="spacingAndGlyphs">1.0</text>
<text class="t" x="713.1" y="529.1" text-anchor="middle" textLength="11.7" lengthAdjust="spacingAndGlyphs">1.2</text>
<text class="t" x="402.0" y="303.5" text-anchor="end" textLength="15.8" lengthAdjust="spacingAndGlyphs">14.0</text>
<text class="t" x="402.0" y="351.0" text-anchor="end" textLength="15.8" lengthAdjust="spacingAndGlyphs">14.5</text>
<text class="t" x="402.0" y="400.9" text-anchor="end" textLength="15.8" lengthAdjust="spacingAndGlyphs">15.0</text>
<text class="t" x="402.0" y="450.7" text-anchor="end" textLength="15.8" lengthAdjust="spacingAndGlyphs">15.5</text>
<text class="t" x="402.0" y="500.5" text-anchor="end" textLength="15.8" lengthAdjust="spacingAndGlyphs">16.0</text>
<text class="t" x="430.9" y="309.0" textLength="10.8" lengthAdjust="spacing">(a)</text>
<text class="t" x="525.8" y="309.0" textLength="10.8" lengthAdjust="spacing">(b)</text>
<text class="t" x="573.3" y="309.0" textLength="10.8" lengthAdjust="spacing">(c)</text>
<text class="t" x="620.7" y="309.0" textLength="10.8" lengthAdjust="spacing">(d)</text>
<text class="t" x="646.5" y="309.0" textLength="51.2" lengthAdjust="spacing" word-spacing="1.2">2016 October</text>
<text class="t" x="558.7" y="538.8" text-anchor="middle" word-spacing="1.9" textLength="97" lengthAdjust="spacingAndGlyphs">Phase (P = 0.693264 d)</text>
<text class="t" style="font-size:8.1px" transform="translate(378.3 407.9) rotate(-90)" text-anchor="middle" textLength="46.4" lengthAdjust="spacingAndGlyphs">R Magnitude</text>
<text class="c" x="542.7" y="570.9" text-anchor="middle" textLength="20" lengthAdjust="spacing"><tspan font-size="19" dy="0.2">(</tspan><tspan dy="-0.2">4</tspan><tspan font-size="19" dy="0.2">)</tspan></text>
</g>
</svg></body></html>
